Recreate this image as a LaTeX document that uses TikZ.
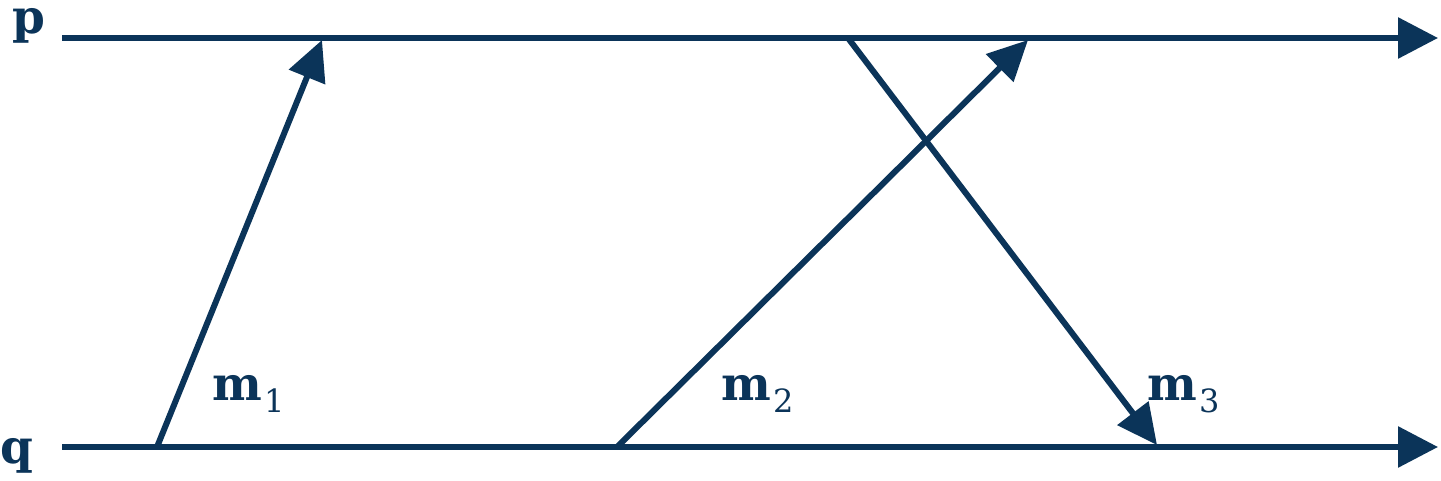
\documentclass[tikz,border=0pt]{standalone}
\usepackage{fontspec}
\setmainfont{DejaVu Serif}
\usetikzlibrary{arrows.meta}
\definecolor{navy}{HTML}{0B3459}
\tikzset{
  line/.style={draw=navy, line width=3pt, -{Triangle[length=20pt,width=20pt]}},
  msg/.style={draw=navy, line width=3pt, -{Triangle[length=20pt,width=19pt]}},
  lbl/.style={text=navy, inner sep=0pt, anchor=base west, font=\bfseries\fontsize{23.5}{27}\selectfont},
}
\newcommand{\msub}[1]{m\hspace{1pt}\raisebox{-6pt}{\mdseries\fontsize{16}{18}\selectfont #1}}
\begin{document}
\begin{tikzpicture}[x=0.5pt,y=-0.5pt]
\useasboundingbox (0,0) rectangle (1441,481);
\coordinate (p0) at (62,38);
\coordinate (p1) at (1438,38);
\coordinate (q0) at (62,447);
\coordinate (q1) at (1438,447);
\coordinate (s1) at (157,447);
\coordinate (r1) at (322,40);
\coordinate (s2) at (617,447);
\coordinate (r2) at (1028,40);
\coordinate (s3) at (848,38);
\coordinate (r3) at (1157,445);
\draw[line] (p0) -- (p1);
\draw[line] (q0) -- (q1);
\draw[msg] (s1) -- (r1);
\draw[msg] (s2) -- (r2);
\draw[msg] (s3) -- (r3);
\node[lbl] (lp) at (12,34) {p};
\node[lbl] (lq) at (0,463) {q};
\node[lbl] (l1) at (212,400) {\msub{1}};
\node[lbl] (l2) at (721,400) {\msub{2}};
\node[lbl] (l3) at (1147,400) {\msub{3}};
\end{tikzpicture}
\end{document}
